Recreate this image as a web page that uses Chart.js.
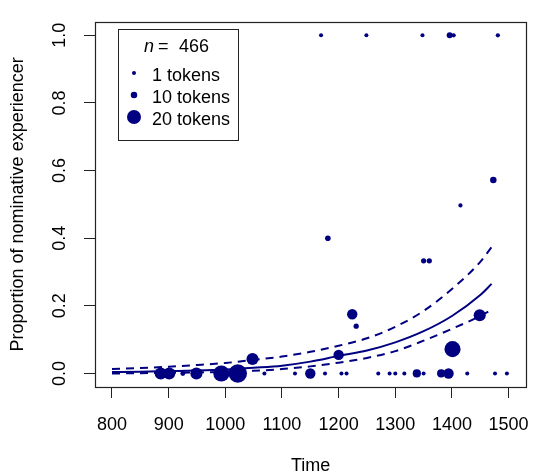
<!DOCTYPE html>
<html>
<head>
<meta charset="utf-8">
<script src="https://cdn.jsdelivr.net/npm/chart.js@4.4.1/dist/chart.umd.min.js"></script>
<style>
  html, body { margin: 0; padding: 0; background: #fff; }
  #wrap { width: 545px; height: 475px; }
</style>
</head>
<body>
<div id="wrap"><canvas id="chart" width="545" height="475"></canvas></div>
<script>
// Observed proportions per text: year, proportion, number of tokens (point size)
const obsYear   = [886, 901, 925, 949, 993, 1022, 1048, 1069, 1123, 1150, 1169, 1176, 1181, 1200, 1205, 1214, 1224, 1231, 1249, 1270, 1290, 1300, 1316, 1338, 1348, 1350, 1350, 1360, 1381, 1394, 1396, 1401, 1403, 1415, 1427, 1449, 1473, 1476, 1481, 1497];
const obsProp   = [0, 0, 0, 0, 0, 0, 0.043, 0, 0, 0, 1, 0, 0.40, 0.055, 0, 0, 0.175, 0.14, 1, 0, 0, 0, 0, 0, 1, 0, 0.333, 0.333, 0, 0, 1, 0.072, 1, 0.497, 0, 0.172, 0.572, 0, 1, 0];
const obsTokens = [18, 18, 6, 18, 22, 24, 18, 1, 1, 16, 1, 1, 8, 16, 1, 1, 16, 7, 1, 1, 1, 1, 1, 13, 1, 1, 7, 7, 13, 16, 9, 22, 3, 3, 1, 18, 10, 1, 3, 1];

// Fitted logistic curve and its confidence band
const fitYear  = [800, 850, 900, 950, 1000, 1050, 1100, 1150, 1200, 1250, 1300, 1350, 1400, 1450, 1470];
const fitMid   = [0.004, 0.005, 0.007, 0.009, 0.012, 0.017, 0.023, 0.035, 0.052, 0.068, 0.092, 0.125, 0.170, 0.232, 0.265];
const fitUpper = [0.013, 0.016, 0.020, 0.025, 0.031, 0.040, 0.050, 0.064, 0.082, 0.104, 0.138, 0.185, 0.250, 0.330, 0.374];
const fitLower = [0.000, 0.001, 0.002, 0.003, 0.005, 0.008, 0.013, 0.021, 0.032, 0.046, 0.066, 0.097, 0.132, 0.170, 0.188];

const xTicks = [800, 900, 1000, 1100, 1200, 1300, 1400, 1500];
const yTicks = [0, 0.2, 0.4, 0.6, 0.8, 1.0];

const legendTokens = [1, 10, 20];
const nTotal = 466;

const navy = '#000080';
const fontFamily = '"Liberation Sans", Arial, sans-serif';

// point radius grows with token count
function tokenRadius(n) {
    return 2 + 0.0125 * n * n;
}

function toXY(xs, ys) {
    return xs.map((x, i) => ({ x: x, y: ys[i] }));
}

Chart.defaults.font.family = fontFamily;
Chart.defaults.font.size = 18;
Chart.defaults.color = '#000';

// box around the plot region + legend box in the top left
const framePlugin = {
    id: 'frame',
    afterDraw(chart) {
        const ctx = chart.ctx;
        const a = chart.chartArea;
        ctx.save();
        ctx.strokeStyle = '#222';
        ctx.lineWidth = 1.2;
        ctx.strokeRect(Math.round(a.left) + 0.5, Math.round(a.top) + 0.5,
            Math.round(a.right - a.left), Math.round(a.bottom - a.top));

        // legend
        const bx = 118, by = 29, bw = 120, bh = 111;
        ctx.fillStyle = '#fff';
        ctx.fillRect(bx, by, bw, bh);
        ctx.strokeStyle = '#222';
        ctx.lineWidth = 1;
        ctx.strokeRect(bx + 0.5, by + 0.5, bw, bh);

        ctx.fillStyle = '#000';
        ctx.textBaseline = 'alphabetic';
        ctx.textAlign = 'left';
        ctx.font = 'italic 18px ' + fontFamily;
        ctx.fillText('n', 144, 52);
        ctx.font = '18px ' + fontFamily;
        ctx.fillText('=', 158, 52);
        ctx.fillText(String(nTotal), 179, 52);

        const rowY = [73, 95, 117];
        legendTokens.forEach((n, i) => {
            ctx.fillStyle = navy;
            ctx.beginPath();
            ctx.arc(134, rowY[i], tokenRadius(n), 0, Math.PI * 2);
            ctx.fill();
            ctx.fillStyle = '#000';
            ctx.fillText(n + ' tokens', 152, rowY[i] + 8);
        });
        ctx.restore();
    }
};

new Chart(document.getElementById('chart'), {
    type: 'scatter',
    data: {
        datasets: [
            {
                label: 'observed',
                data: toXY(obsYear, obsProp),
                pointRadius: obsTokens.map(tokenRadius),
                pointHoverRadius: obsTokens.map(tokenRadius),
                backgroundColor: navy,
                borderWidth: 0
            },
            {
                label: 'fit',
                data: toXY(fitYear, fitMid),
                showLine: true,
                borderColor: navy,
                borderWidth: 2,
                pointRadius: 0,
                cubicInterpolationMode: 'monotone'
            },
            {
                label: 'upper',
                data: toXY(fitYear, fitUpper),
                showLine: true,
                borderColor: navy,
                borderWidth: 2,
                borderDash: [8, 6],
                pointRadius: 0,
                cubicInterpolationMode: 'monotone'
            },
            {
                label: 'lower',
                data: toXY(fitYear, fitLower),
                showLine: true,
                borderColor: navy,
                borderWidth: 2,
                borderDash: [8, 6],
                pointRadius: 0,
                cubicInterpolationMode: 'monotone'
            }
        ]
    },
    options: {
        responsive: false,
        animation: false,
        devicePixelRatio: 1,
        layout: { padding: { top: 10, right: 4, left: 0, bottom: 0 } },
        plugins: {
            legend: { display: false },
            tooltip: { enabled: false }
        },
        scales: {
            x: {
                type: 'linear',
                min: 770,
                max: 1531,
                afterBuildTicks: s => { s.ticks = xTicks.map(v => ({ value: v })); },
                afterFit: s => { s.height = 88; },
                ticks: {
                    callback: v => String(v),
                    padding: 16,
                    maxRotation: 0,
                    autoSkip: false
                },
                grid: { drawOnChartArea: false, drawTicks: true, tickLength: 11, color: '#222' },
                border: { display: false },
                title: {
                    display: true,
                    text: 'Time',
                    font: { size: 18, lineHeight: 1 },
                    padding: { top: 0, bottom: 0 }
                }
            },
            y: {
                type: 'linear',
                min: -0.04,
                max: 1.04,
                afterBuildTicks: s => { s.ticks = yTicks.map(v => ({ value: v })); },
                afterFit: s => { s.width = 95; },
                ticks: {
                    callback: v => v.toFixed(1),
                    minRotation: 90,
                    maxRotation: 90,
                    crossAlign: 'center',
                    padding: 11,
                    autoSkip: false
                },
                grid: { drawOnChartArea: false, drawTicks: true, tickLength: 11, color: '#222' },
                border: { display: false },
                title: {
                    display: true,
                    text: 'Proportion of nominative experiencer',
                    font: { size: 18, lineHeight: 1.2 },
                    padding: { top: 7, bottom: 0 }
                }
            }
        }
    },
    plugins: [framePlugin]
});
</script>
</body>
</html>
